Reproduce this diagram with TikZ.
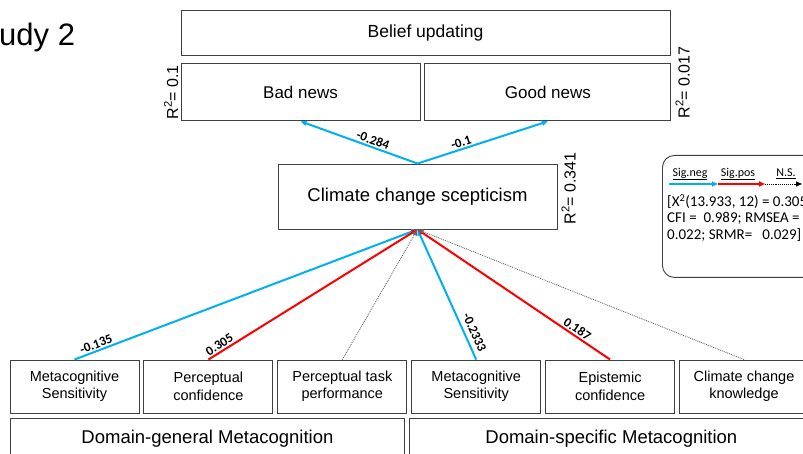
\documentclass[tikz,border=0pt]{standalone}
\usepackage{fontspec}
\setmainfont{Liberation Sans}
\newfontfamily\calibfont{Carlito}
\usepackage{tikz}
\usetikzlibrary{arrows.meta, calc, positioning}
\definecolor{signeg}{RGB}{0,176,240}
\definecolor{sigpos}{RGB}{255,0,0}

\begin{document}
\begin{tikzpicture}[x=1pt, y=1pt, >={Triangle[length=6pt,width=5pt]},
  box/.style={draw=black!75, line width=0.9pt, align=center, inner sep=1pt},
  negline/.style={->, signeg, line width=2pt},
  posline/.style={->, sigpos, line width=2pt},
  nsline/.style={->, black!60, densely dotted, line width=0.9pt},
  coef/.style={font=\calibfont\bfseries\fontsize{13}{14}\selectfont, text=black, inner sep=1.5pt, sloped, above},
  rsq/.style={font=\fontsize{16}{18}\selectfont, rotate=90, inner sep=2pt},
  key/.style={font=\calibfont\fontsize{12}{14}\selectfont, inner sep=1pt}]
\useasboundingbox (0,0) rectangle (803,454);
\clip (0,0) rectangle (803,454);
\node[anchor=base west, inner sep=0pt, font=\fontsize{31}{34}\selectfont] (study) at (-1,408) {udy 2};
\node[box, minimum width=489, minimum height=45, font=\fontsize{17.5}{20}\selectfont] (belief) at (425.5,421.5) {Belief updating};
\node[box, minimum width=239, minimum height=57, anchor=north west, font=\fontsize{17}{20}\selectfont] (bad) at ($(belief.south west)+(0,-8)$) {Bad news};
\node[box, minimum width=246, minimum height=57, right=4pt of bad, font=\fontsize{17}{20}\selectfont] (good) {Good news};
\node[box, minimum width=279, minimum height=65, font=\fontsize{18.5}{22}\selectfont] (scep) at (417.5,257.5) {Climate change scepticism};
\node[rsq, anchor=south] (rbad) at (bad.west) {R\textsuperscript{2}= 0.1};
\node[rsq, anchor=north] (rgood) at ($(good.east)+(2,10)$) {R\textsuperscript{2}= 0.017};
\node[rsq, anchor=north] (rscep) at ($(scep.east)+(2,8)$) {R\textsuperscript{2}= 0.341};
% predictors
\begin{scope}[every node/.style={box, minimum width=129, minimum height=53, font=\fontsize{14.5}{17.5}\selectfont}, node distance=4pt]
\node (msgen) at (74.5,67.5) {Metacognitive\\Sensitivity};
\node[right=of msgen] (pconf) {Perceptual\\confidence};
\node[right=of pconf] (ptask) {Perceptual task\\performance};
\node[right=of ptask] (msspec) {Metacognitive\\Sensitivity};
\node[right=of msspec] (econf) {Epistemic\\confidence};
\node[right=of econf] (know) {Climate change\\knowledge};
\end{scope}
\node[box, minimum width=394, minimum height=40, anchor=north west, font=\fontsize{18.5}{22}\selectfont] (dgen) at (10,36) {Domain-general Metacognition};
\node[box, minimum width=404, minimum height=40, right=4pt of dgen, font=\fontsize{18.5}{22}\selectfont] (dspec) {Domain-specific Metacognition};
% paths
\draw[negline] (scep.north) -- node[coef, pos=0.4] {-0.284} (bad.south);
\draw[negline] (scep.north) -- node[coef, pos=0.35] {-0.1} (good.south);
\draw[negline] (msgen.north) -- node[coef, pos=0.07] {-0.135} (scep.south);
\draw[posline] (pconf.north) -- node[coef, pos=0.07] {0.305} (scep.south);
\draw[nsline] (ptask.north) -- (scep.south);
\draw[negline] (msspec.north) -- node[coef, pos=0.18, above=3pt] {-0.2333} (scep.south);
\draw[posline] (econf.north) -- node[coef, pos=0.19] {0.187} (scep.south);
\draw[nsline] (know.north) -- (scep.south);
% legend
\node[draw=black!75, line width=0.9pt, rounded corners=12pt, minimum width=175, minimum height=122, anchor=north west] (legend) at (662,299) {};
\coordinate (k1) at (669,270);
\coordinate (k2) at (718,270);
\coordinate (k3) at (765,270);
\coordinate (k4) at (802,270);
\draw[negline] (k1) -- (k2);
\draw[posline] (k2) -- (k3);
\draw[nsline, black] (k3) -- (k4);
\node[key] (kneg) at (690,280) {\underline{Sig.neg}};
\node[key] (kpos) at (738,280) {\underline{Sig.pos}};
\node[key] (kns) at (786,280) {\underline{N.S.}};
\node[anchor=north west, align=left, inner sep=1pt, font=\calibfont\fontsize{15}{16.5}\selectfont] (fitstat) at (666,261)
  {[X\textsuperscript{2}(13.933, 12) = 0.305\\CFI =\ \ 0.989; RMSEA =\\0.022; SRMR=\ \ \ 0.029]};
\end{tikzpicture}
\end{document}
